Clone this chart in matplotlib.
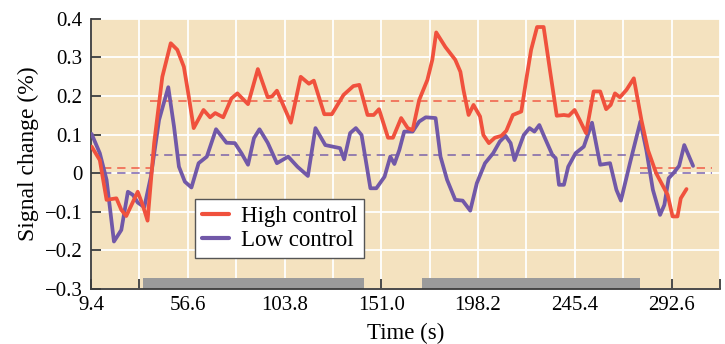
import matplotlib
matplotlib.use("Agg")
import matplotlib.pyplot as plt
import numpy as np

# ---------------- data ----------------
high_t = [9.7, 13.7, 17.0, 21.8, 24.2, 26.6, 32.2, 34.6, 37.0, 40.2, 44.2, 48.3, 51.5, 54.7,
          57.1, 59.5, 64.3, 67.5, 70.0, 73.9, 77.9, 80.8, 86.0, 90.8, 95.6, 97.7, 100.1,
          106.9, 111.7, 115.7, 118.1, 123.2, 126.9, 132.6, 137.4, 140.3, 144.3, 147.3,
          149.9, 154.3, 156.7, 160.7, 163.9, 166.3, 169.5, 173.5, 175.9, 177.8, 182.3,
          187.1, 189.6, 191.1, 193.6, 196.0, 199.2, 200.8, 203.5, 206.4, 209.6, 212.0,
          215.2, 219.3, 221.7, 224.1, 227.0, 230.2, 233.4, 236.6, 240.1, 242.5, 245.3,
          247.8, 250.9, 254.6, 257.8, 260.7, 262.9, 265.0, 267.4, 270.6, 274.2, 277.9,
          281.1, 285.1, 290.7, 293.1, 295.5, 297.1, 299.9]
high_v = [0.069, 0.034, -0.069, -0.065, -0.095, -0.111, -0.048, -0.082, -0.123, 0.078, 0.25,
          0.337, 0.32, 0.276, 0.199, 0.117, 0.164, 0.145, 0.156, 0.145, 0.194, 0.207, 0.179,
          0.27, 0.197, 0.199, 0.214, 0.131, 0.25, 0.232, 0.24, 0.153, 0.153, 0.203, 0.226,
          0.229, 0.151, 0.151, 0.166, 0.092, 0.092, 0.143, 0.117, 0.112, 0.19, 0.242, 0.294,
          0.365, 0.327, 0.294, 0.263, 0.216, 0.151, 0.177, 0.147, 0.099, 0.078, 0.092, 0.097,
          0.110, 0.151, 0.160, 0.242, 0.32, 0.379, 0.379, 0.263, 0.149, 0.151, 0.149, 0.164,
          0.138, 0.104, 0.212, 0.212, 0.166, 0.177, 0.207, 0.197, 0.216, 0.246, 0.138, 0.06,
          0.0, -0.056, -0.112, -0.112, -0.065, -0.041]

low_t = [9.7, 13.7, 17.0, 20.6, 24.2, 27.4, 29.8, 32.2, 35.4, 38.6, 42.6, 47.1, 49.9, 52.3,
         55.2, 58.4, 61.9, 65.9, 70.4, 75.5, 79.6, 82.8, 86.0, 88.9, 91.6, 95.6, 100.1, 105.6,
         110.1, 115.2, 118.9, 123.7, 130.9, 132.9, 135.8, 138.6, 141.4, 145.7, 148.6, 152.6,
         155.4, 157.4, 159.8, 162.2, 166.3, 169.5, 172.7, 177.5, 179.9, 183.1, 187.1, 190.7,
         194.4, 197.6, 201.6, 205.6, 208.8, 211.6, 214.1, 216.0, 220.5, 223.3, 225.7, 228.1,
         230.5, 234.5, 236.1, 237.7, 240.1, 242.2, 245.8, 249.8, 253.8, 257.8, 262.6, 265.7,
         267.9, 272.3, 277.4, 280.3, 283.5, 287.0, 289.1, 291.2, 293.5, 296.3, 298.8, 303.1]
low_v = [0.102, 0.052, -0.017, -0.177, -0.147, -0.048, -0.056, -0.076, -0.088, -0.009, 0.138,
         0.223, 0.121, 0.017, -0.022, -0.037, 0.026, 0.043, 0.114, 0.079, 0.078, 0.052, 0.022,
         0.091, 0.114, 0.079, 0.026, 0.043, 0.017, -0.007, 0.117, 0.073, 0.065, 0.036, 0.104,
         0.117, 0.099, -0.039, -0.039, -0.009, 0.043, 0.024, 0.06, 0.108, 0.108, 0.134, 0.145,
         0.143, 0.043, -0.017, -0.069, -0.071, -0.097, -0.026, 0.026, 0.052, 0.082, 0.097,
         0.078, 0.034, 0.099, 0.117, 0.108, 0.125, 0.095, 0.047, 0.039, -0.030, -0.030, 0.017,
         0.052, 0.069, 0.131, 0.022, 0.026, -0.043, -0.071, 0.026, 0.134, 0.06, -0.043, -0.108,
         -0.082, -0.013, 0.0, 0.019, 0.073, 0.019]

# block means (dashed): segment edges and values
seg_edges = [15.2, 38.3, 277.3, 312.4]
high_means = [0.013, 0.186, 0.013]
low_means = [0.0, 0.047, 0.0]

# task blocks (gray bars)
blocks = [(34.9, 142.6), (171.1, 277.0)]

xticks = [9.4, 56.6, 103.8, 151.0, 198.2, 245.4, 292.6]
xtick_labels = ["9.4", "56.6", "103.8", "151.0", "198.2", "245.4", "292.6"]
yticks = [-0.3, -0.2, -0.1, 0, 0.1, 0.2, 0.3, 0.4]
ytick_labels = ["\u22120.3", "\u22120.2", "\u22120.1", "0", "0.1", "0.2", "0.3", "0.4"]

# ---------------- style ----------------
RED = "#F0513D"
PURPLE = "#7158A8"
BG = "#F4E2BF"
DARK = "#3c3c3c"
plt.rcParams["font.family"] = ["Liberation Serif", "DejaVu Serif"]

fig = plt.figure(figsize=(7.25, 3.44), dpi=100)
ax = fig.add_axes([0.1255, 0.16, 0.8675, 0.785])
ax.set_facecolor(BG)
ax.set_xlim(9.4, 312.4)
ax.set_ylim(-0.3, 0.4)

ax.set_xticks(xticks)
ax.set_xticklabels(xtick_labels)
ax.set_xticks([x + 23.6 for x in xticks], minor=True)
ax.set_yticks(yticks)
ax.set_yticklabels(ytick_labels)
ax.grid(True, which="both", color="white", linewidth=1.3, zorder=0)
ax.set_axisbelow(True)

for s in ["top", "right"]:
    ax.spines[s].set_visible(False)
for s in ["left", "bottom"]:
    ax.spines[s].set_color(DARK)
    ax.spines[s].set_linewidth(1.3)

ax.tick_params(axis="both", which="both", direction="in", length=7, width=1.3,
               color=DARK, labelsize=15)
ax.tick_params(axis="y", which="major", pad=6)
ax.tick_params(axis="x", which="major", pad=5)

# gray blocks
for b0, b1 in blocks:
    ax.add_patch(plt.Rectangle((b0, -0.3), b1 - b0, 0.028, facecolor="#9b9b9b",
                               edgecolor="none", zorder=1.5))

# dashed means
for i in range(len(high_means)):
    ax.plot([seg_edges[i], seg_edges[i + 1]], [high_means[i]] * 2, color=RED,
            lw=1.2, ls=(0, (5, 3.5)), alpha=0.85, zorder=2)
    ax.plot([seg_edges[i], seg_edges[i + 1]], [low_means[i]] * 2, color=PURPLE,
            lw=1.2, ls=(0, (5, 3.5)), alpha=0.85, zorder=2)

ax.plot(high_t, high_v, color=RED, lw=2.7, solid_joinstyle="round",
        solid_capstyle="round", label="High control", zorder=4)
ax.plot(low_t, low_v, color=PURPLE, lw=2.7, solid_joinstyle="round",
        solid_capstyle="round", label="Low control", zorder=3)

h, l = ax.get_legend_handles_labels()
leg = ax.legend(h, l, loc="lower left", bbox_to_anchor=(0.165, 0.115), fontsize=16.5,
                frameon=True, fancybox=False, edgecolor="#555555", facecolor="white",
                framealpha=1, handlelength=1.2, handletextpad=0.5, borderpad=0.3,
                labelspacing=0.15, borderaxespad=0)
leg.get_frame().set_linewidth(1.0)
for line in leg.get_lines():
    line.set_linewidth(3)

ax.set_xlabel("Time (s)", fontsize=16.5, labelpad=6)
ax.set_ylabel("Signal change (%)", fontsize=17, labelpad=4)

fig.savefig("out.png", dpi=100)
